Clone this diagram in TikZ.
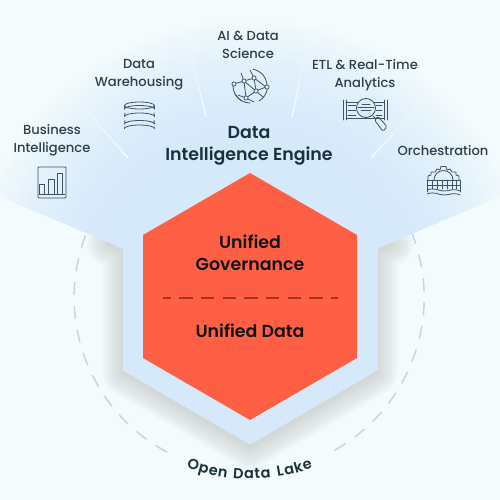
\documentclass[tikz,border=0pt]{standalone}
\usepackage{fontspec}
\setmainfont{Poppins Medium}[BoldFont=Poppins SemiBold]
\definecolor{bgc}{HTML}{F3FBFC}
\definecolor{fanc}{HTML}{D6E9FB}
\definecolor{orangec}{HTML}{FF5F44}
\definecolor{dashc}{HTML}{A8321F}
\definecolor{ringc}{HTML}{CDD3E0}
\definecolor{inkc}{HTML}{1B3139}
\definecolor{labc}{HTML}{2D4048}
\definecolor{iconc}{HTML}{3F5560}
\tikzset{
  lab/.style={font=\fontsize{13.1}{18}\selectfont,text=labc,align=center,inner sep=0pt},
  hexlab/.style={font=\bfseries\fontsize{17.4}{22}\selectfont,text=black!92,align=center,inner sep=0pt},
  lakelab/.style={font=\bfseries\fontsize{14.5}{17}\selectfont,text=inkc,inner sep=0pt,anchor=base},
  icon/.style={draw=iconc,line width=0.8pt,line cap=round,line join=round},
  dot/.style={icon,fill=fanc!80!white},
}
\begin{document}
\begin{tikzpicture}[x=1pt,y=-1pt]
\useasboundingbox (0,0) rectangle (500,500);
\fill[bgc] (0,0) rectangle (500,500);
% dashed ring
\draw[ringc,line width=1.5pt,dash pattern=on 13pt off 11pt] (167,452) arc[start angle=118,end angle=422,radius=175];
% shadow
\foreach \w in {2,5,...,44}{
  \draw[black!75,line width=\w pt,opacity=0.0105,line join=round,line cap=round]
    (108,244) -- (124,252) -- (124,373) -- (250,447) -- (376,373) -- (376,252) -- (392,244);
}
% fan
\begin{scope}
\clip (0,196) -- (123,248) -- (123,370) -- (250,444) -- (377,370) -- (377,248) -- (500,196) -- (500,0) -- (0,0) -- cycle;
\fill[bgc] (0,0) rectangle (500,500);
\foreach \r in {285,282,...,150}{
  \pgfmathsetmacro{\pc}{min(100,max(0,(285-\r)/135*100))}
  \pgfmathsetmacro{\pd}{100*(1-(1-\pc/100)*(1-\pc/100))}
  \fill[fanc!\pd!bgc] (250,302) circle[radius=\r];
}
\end{scope}
% separators
\foreach \xa/\ya/\xb/\yb in {128/158/75/97,206/117/187/37,292/117/308/40,371/158/427/97}{
  \foreach \t in {0,0.05,...,0.95}{
    \draw[white,line width=1.3pt,opacity={0.8*(1-\t)}]
      ({\xa+\t*(\xb-\xa)},{\ya+\t*(\yb-\ya)}) -- ({\xa+(\t+0.05)*(\xb-\xa)},{\ya+(\t+0.05)*(\yb-\ya)});
  }
}
% hexagon
\fill[orangec] (250,173) -- (357,235) -- (357,358) -- (250,420) -- (143,358) -- (143,235) -- cycle;
\draw[dashc,line width=1.9pt,dash pattern=on 13.3pt off 8.4pt,dash phase=5.5pt] (163,298) -- (337.5,298);
\node[hexlab] (gov) at (250,253) {Unified\\Governance};
\node[hexlab] (data) at (250,331) {Unified Data};
\node[hexlab,text=inkc] (engine) at (249,146) {Data\\Intelligence Engine};
% labels
\node[lab] (bi) at (52,140) {Business\\Intelligence};
\node[lab] (dw) at (139,75) {Data\\Warehousing};
\node[lab] (ai) at (248,45) {AI \& Data\\Science};
\node[lab] (etl) at (365,75) {ETL \& Real-Time\\Analytics};
\node[lab] (orch) at (443,151) {Orchestration};
% open data lake, set letter by letter along its arc
\foreach \c/\adv [count=\i, remember=\nexts as \curs (initially -65)] in
  {O/.78,p/.64,e/.60,n/.60,~/.30,D/.72,a/.64,t/.38,a/.64,~/.30,L/.52,a/.64,k/.56,e/.60}{
  \pgfmathsetmacro{\mids}{\curs+\adv*14.5/2}
  \pgfmathsetmacro{\nexts}{\curs+\adv*14.5+1.1}
  \pgfmathsetmacro{\ang}{\mids/182*57.296}
  \node[lakelab,rotate=\ang] (lake\i) at ({250+182*sin(\ang)},{297+182*cos(\ang)}) {\c};
}
% bar chart icon
\draw[icon,rounded corners=1pt] (38,198) -- (38,167) -- (66,167) -- (66,198) -- cycle;
\draw[icon] (39,194.5) -- (65,194.5);
\draw[icon] (39,194) -- (39,184.5) -- (44.5,184.5) -- (44.5,194) (48,194) -- (48,179.5) -- (54,179.5) -- (54,194) (57,194) -- (57,173) -- (62.5,173) -- (62.5,194);
% database icon
\draw[icon] (139.5,105.5) ellipse[x radius=15,y radius=3.5];
\draw[icon] (124.5,105.5) -- (124.5,109) (154.5,105.5) -- (154.5,109);
\draw[icon] (124.5,109) arc[start angle=180,end angle=0,x radius=15,y radius=-3.5];
\draw[icon] (125,113) -- (124.5,116.5) arc[start angle=180,end angle=0,x radius=15,y radius=-3.5] -- (154,113);
\draw[icon] (125,120.5) -- (124.5,124) arc[start angle=180,end angle=0,x radius=15,y radius=-3.5] -- (154,120.5);
\draw[icon] (125,127) -- (124.5,128.5) arc[start angle=180,end angle=0,x radius=15,y radius=-3.5] -- (154,127);
% AI icon
\draw[icon] (233,86) arc[start angle=180,end angle=120,radius=17];
\draw[icon] (267,86) arc[start angle=0,end angle=-80,radius=17];
\draw[icon] (250,103) arc[start angle=90,end angle=150,radius=17];
\draw[icon] (259,101) arc[start angle=60,end angle=5,radius=17];
\draw[icon] (234,84) -- (244,81) -- (254,78) -- (266,87) -- (256,91) -- (246,98) -- (244,81) (254,78) -- (256,91) (244,81) -- (256,91) (238,95) -- (246,98) -- (254,102) (256,91) -- (263,97) (250,70) -- (254,78) (244,81) -- (241,73);
\foreach \px/\py in {234/84,244/81,254/78,267/87,256/91,246/98}{\draw[dot] (\px,\py) circle[radius=2.1];}
% ETL icon
\draw[icon] (343,100) -- (343,120) (346,100) -- (346,120) (384,100) -- (384,120) (387,100) -- (387,120);
\draw[icon] (346,102) -- (384,102) (346,118) -- (384,118);
\draw[icon] (348,105) -- (356,105) (348,110) -- (356,110) (348,115) -- (356,115) (376,105) -- (382,105) (376,110) -- (382,110) (376,115) -- (382,115);
\draw[icon,fill=fanc!85!white] (366,108) circle[radius=9.5];
\draw[icon] (358,107) -- (374,107) (361,110) -- (371,110) (362,104) -- (370,104);
\draw[icon] (373,116) -- (376,119);
\draw[icon,rounded corners=1.5pt] (374.5,120) -- (378,116.5) -- (387,126.5) -- (383,131.5) -- cycle;
% Orchestration icon
\draw[icon] (428,180) -- (428,176) -- (431,175) -- (431,172) -- (435,172) -- (437,169) -- (440,170) -- (441,166.5) -- (446,166.5) -- (447,170) -- (450,169) -- (452,172) -- (456,172) -- (456,175) -- (459,176) -- (459,180);
\draw[icon] (434,180) arc[start angle=180,end angle=360,radius=9.5];
\draw[icon] (427,180) -- (460,180) (427,185) -- (460,185);
\draw[icon] (427,180) -- (427,192) (460,180) -- (460,192);
\foreach \q in {432,437,442,447,452,456}{\draw[icon] (\q,180) -- (\q,189);}
\draw[icon] (427,190) .. controls (435,187) and (438,191) .. (444,191) .. controls (450,191) and (453,188) .. (460,191);
\draw[icon] (427,194) .. controls (435,191) and (438,195) .. (444,195) .. controls (450,195) and (453,192) .. (460,195);
\end{tikzpicture}
\end{document}
